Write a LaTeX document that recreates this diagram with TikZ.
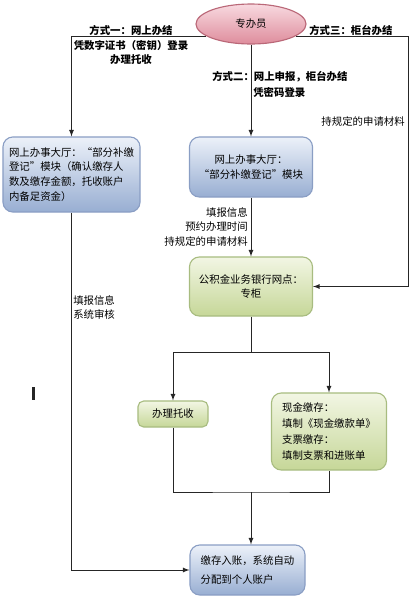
\documentclass[tikz,border=0pt]{standalone}
\usepackage{fontspec}
\setmainfont{Noto Sans CJK SC}
\usetikzlibrary{arrows,shapes.geometric}
\definecolor{bluelight}{RGB}{236,241,249}
\definecolor{bluedeep}{RGB}{152,174,210}
\definecolor{blueedge}{RGB}{138,158,196}
\definecolor{greenlight}{RGB}{242,246,228}
\definecolor{greendeep}{RGB}{198,215,152}
\definecolor{greenedge}{RGB}{168,188,128}
\definecolor{pinklight}{RGB}{248,218,224}
\definecolor{pinkdeep}{RGB}{222,140,156}
\definecolor{pinkedge}{RGB}{186,104,120}
\tikzset{
  flow/.style={draw=black!85, line width=0.6pt, -latex},
  rail/.style={draw=black!85, line width=0.6pt},
  hallbox/.style={rectangle, rounded corners=7pt, draw=blueedge, line width=0.8pt,
                  top color=bluelight, bottom color=bluedeep, inner sep=2pt},
  bankbox/.style={rectangle, rounded corners=7pt, draw=greenedge, line width=0.8pt,
                  top color=greenlight, bottom color=greendeep, inner sep=2pt},
  tag/.style={inner sep=0pt, font=\fontsize{7.4}{10.6}\selectfont},
}
\begin{document}
\begin{tikzpicture}[x=0.025cm, y=-0.025cm, font=\fontsize{7.4}{10.6}\selectfont]
    \useasboundingbox (0,0) rectangle (413,600);
    % Start
    \node[ellipse, draw=pinkedge, line width=0.8pt, top color=pinklight, bottom color=pinkdeep,
          minimum width=2.75cm, minimum height=1.0cm, inner sep=0pt] (clerk) at (251,24) {专办员};
    % Boxes
    \node[hallbox, minimum width=3.425cm, minimum height=1.875cm, align=left]   (onlinehall) at (71.5,174.5)
         {网上办事大厅：“部分补缴\\登记”模块（确认缴存人\\数及缴存金额，托收账户\\内备足资金）};
    \node[hallbox, minimum width=3.075cm, minimum height=1.5cm, align=center]   (hallmodule) at (251,167)
         {网上办事大厅：\\“部分补缴登记”模块};
    \node[bankbox, minimum width=3.075cm, minimum height=1.475cm, align=center] (bankcounter) at (251,286.5)
         {公积金业务银行网点：\\专柜};
    \node[bankbox, minimum width=1.75cm, minimum height=0.65cm, rounded corners=4pt] (collect) at (173,414)
         {办理托收};
    \node[bankbox, minimum width=2.875cm, minimum height=1.925cm, align=left, font=\fontsize{7.4}{11.4}\selectfont]
         (cashpay) at (329,431.5)
         {现金缴存：\\填制《现金缴款单》\\支票缴存：\\填制支票和进账单};
    \node[hallbox, minimum width=2.875cm, minimum height=1.25cm, align=left, font=\fontsize{7.4}{13}\selectfont]
         (posting) at (247.5,570)
         {缴存入账，系统自动\\分配到个人账户};
    % Helper points
    \coordinate (rightrail) at (408,0);
    \coordinate (split)     at (251,352);
    \coordinate (merge)     at (251,492);
    % Way one
    \draw[flow] (clerk.195) -| (onlinehall.north);
    \draw[flow] (onlinehall.south) |- (posting.west);
    % Way two
    \draw[flow] (clerk.south) -- (hallmodule.north);
    \draw[flow] (hallmodule.south) -- (bankcounter.north);
    % Way three
    \draw[flow] (clerk.-15) -| (rightrail |- bankcounter.east) -- (bankcounter.east);
    % Counter to payment
    \draw[rail] (bankcounter.south) -- (split);
    \draw[flow] (split) -| (collect.north);
    \draw[flow] (split) -| (cashpay.north);
    \draw[rail] (collect.south) |- (merge) -| (cashpay.south);
    \draw[flow] (merge) -- (merge |- posting.north);
    % Labels
    \node[tag, align=center, font=\bfseries\fontsize{7.4}{10.6}\selectfont] (wayone) at (131,45)
         {方式一：网上办结\\凭数字证书（密钥）登录\\办理托收};
    \node[tag, anchor=west, font=\bfseries\fontsize{7.4}{10.6}\selectfont] (waytwo)    at (212,77) {方式二：网上申报，柜台办结};
    \node[tag, anchor=west, font=\bfseries\fontsize{7.4}{10.6}\selectfont] (waytwosub) at (253,92) {凭密码登录};
    \node[tag, anchor=west, font=\bfseries\fontsize{7.4}{10.6}\selectfont] (waythree)  at (309,30) {方式三：柜台办结};
    \node[tag, anchor=east] (waythreesub) at (405,122) {持规定的申请材料};
    \node[tag, anchor=east, align=right] (fillmid) at (248,227) {填报信息\\预约办理时间\\持规定的申请材料};
    \node[tag, anchor=west, align=left]  (fillleft) at (73,307.5) {填报信息\\系统审核};
    % Stray mark
    \draw[line width=1.7pt, black!85] (33.5,387) -- (33.5,400);
\end{tikzpicture}
\end{document}
